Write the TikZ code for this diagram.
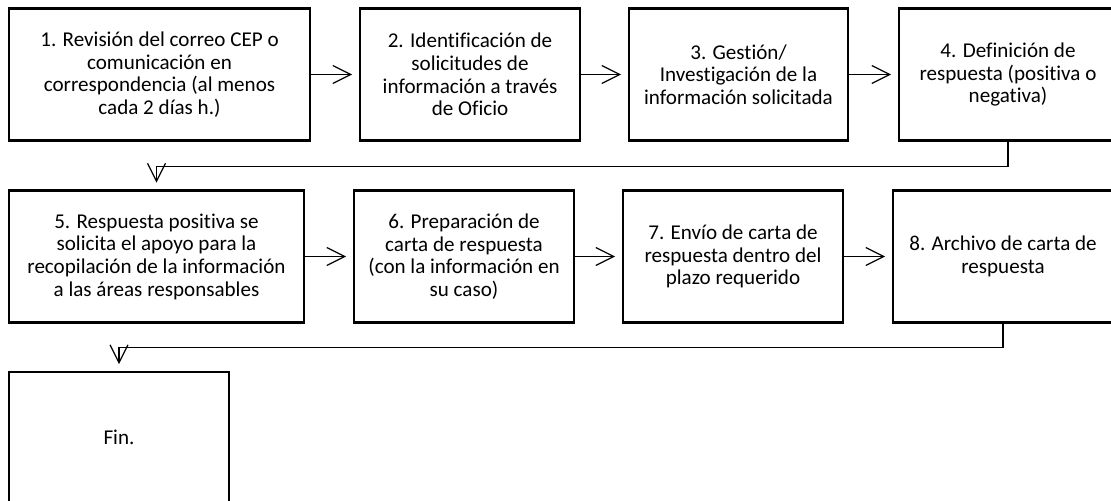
\documentclass[tikz,border=0pt]{standalone}
\usepackage{fontspec}
\setmainfont{Carlito}[Ligatures=NoCommon]
\usetikzlibrary{arrows.meta,positioning}

\begin{document}
\begin{tikzpicture}[x=0.02cm,y=-0.02cm]
   \useasboundingbox (0,0) rectangle (1111,500);
   \clip (0,0) rectangle (1111,500);
   \fontsize{12pt}{12.9pt}\selectfont
   \tikzstyle{paso}=[draw=black, line width=1.5pt, align=center, minimum height=2.64cm, inner sep=0pt]
   \tikzstyle{flecha}=[line width=0.7pt, -{Straight Barb[length=0.36cm,width=0.36cm,line width=0.7pt]}, shorten >=0.13cm]
   % primera fila
   \node[paso,minimum width=6.02cm] (revision) at (159.5,74.5) {1. Revisión del correo CEP o\\comunicación en\\correspondencia (al menos\\cada 2 días h.)};
   \node[paso,minimum width=4.4cm] (identificacion) at (470,74.5) {2. Identificación de\\solicitudes de\\información a través\\de Oficio};
   \node[paso,minimum width=4.38cm] (gestion) at (738.5,74.5) {3. Gestión/\\Investigación de la\\información solicitada};
   \node[paso,minimum width=4.36cm] (definicion) at (1008,74.5) {4. Definición de\\respuesta (positiva o\\negativa)};
   % segunda fila
   \node[paso,minimum width=5.9cm] (respuesta) at (156.5,256.5) {5. Respuesta positiva se\\solicita el apoyo para la\\recopilación de la información\\a las áreas responsables};
   \node[paso,minimum width=4.4cm] (preparacion) at (464,256.5) {6. Preparación de\\carta de respuesta\\(con la información en\\su caso)};
   \node[paso,minimum width=4.4cm] (envio) at (733,256.5) {7. Envío de carta de\\respuesta dentro del\\plazo requerido};
   \node[paso,minimum width=4.4cm] (archivo) at (1003,256.5) {8. Archivo de carta de\\respuesta};
   % fin
   \node[paso,minimum width=4.4cm,minimum height=2.6cm] (fin) at (119,437) {Fin.};
   \foreach \a/\b in {revision/identificacion,identificacion/gestion,gestion/definicion,respuesta/preparacion,preparacion/envio,envio/archivo} {
       \draw[flecha] (\a) -- (\b);
   }
   \draw[flecha] (definicion.south) -- ++(0,25) -| (respuesta.north);
   \draw[flecha] (archivo.south) -- ++(0,24) -| (fin.north);
\end{tikzpicture}
\end{document}
